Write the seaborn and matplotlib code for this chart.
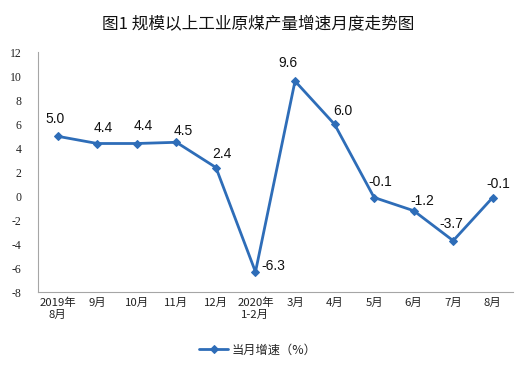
import matplotlib
matplotlib.use("Agg")
import matplotlib.pyplot as plt
import seaborn as sns
import pandas as pd
import numpy as np

categories = ["2019年\n8月", "9月", "10月", "11月", "12月", "2020年\n1-2月",
              "3月", "4月", "5月", "6月", "7月", "8月"]
growth = [5.0, 4.4, 4.4, 4.5, 2.4, -6.3, 9.6, 6.0, -0.1, -1.2, -3.7, -0.1]
value_labels = ["5.0", "4.4", "4.4", "4.5", "2.4", "-6.3", "9.6", "6.0", "-0.1", "-1.2", "-3.7", "-0.1"]
yticks = [12, 10, 8, 6, 4, 2, 0, -2, -4, -6, -8]
series_name = "当月增速（%）"
title = "图1 规模以上工业原煤产量增速月度走势图"

# label offsets in pixels (dx, dy up)
label_offsets = [(-3, 17), (6, 16), (6, 17), (7, 11), (6, 14), (18, 6),
                 (-7, 18), (8, 13), (6, 15), (9, 10), (-2, 17), (6, 14)]

sns.set_theme(style="white")
plt.rcParams['font.family'] = ['Noto Sans CJK SC', 'DejaVu Sans']

color = "#2E6DB8"
df = pd.DataFrame({"pos": np.arange(len(categories)), "val": growth, "series": series_name})

fig = plt.figure(figsize=(5.16, 3.67), dpi=100)
ax = fig.add_axes([38 / 516, 1 - 292.3 / 367, 474.5 / 516, 240 / 367])

sns.lineplot(data=df, x="pos", y="val", hue="series", palette=[color], ax=ax,
             marker="D", markersize=4.5, markeredgecolor=color, linewidth=2.0, sort=False)

ax.set_xlim(-0.5, len(categories) - 0.5)
ax.set_ylim(-8, 12)
ax.set_yticks(yticks)
ax.set_yticklabels([str(t) for t in yticks], fontfamily="Liberation Serif", fontsize=8.5)
ax.set_xticks(np.arange(len(categories)))
ax.set_xticklabels(categories, fontsize=8.2, linespacing=1.25)
ax.set_xticks(np.arange(len(categories) + 1) - 0.5, minor=True)
ax.tick_params(axis="x", which="major", length=0, pad=4, colors="#222222")
ax.tick_params(axis="x", which="minor", direction="in", length=3, color="#A6A6A6", width=0.8)
ax.tick_params(axis="y", which="major", direction="out", length=3, color="#A6A6A6", width=0.8,
               pad=9, colors="#222222")
ax.tick_params(axis="y", color="#A6A6A6")
ax.set_xlabel("")
ax.set_ylabel("")
for s in ["top", "right"]:
    ax.spines[s].set_visible(False)
for s in ["left", "bottom"]:
    ax.spines[s].set_color("#A6A6A6")
    ax.spines[s].set_linewidth(0.8)
ax.grid(False)

for i, (v, lab) in enumerate(zip(growth, value_labels)):
    dx, dy = label_offsets[i]
    ax.annotate(lab, (i, v), xytext=(dx * 0.72, dy * 0.72), textcoords="offset points",
                ha="center", va="center", fontsize=10, fontfamily="Liberation Sans", color="#111111")

leg = ax.legend(loc="center", bbox_to_anchor=(258 / 516, 1 - 350 / 367),
                bbox_transform=fig.transFigure, frameon=False, fontsize=8.8,
                handlelength=2.4, handletextpad=0.3)

fig.text(258 / 516, 1 - 25 / 367, title, ha="center", va="center", fontsize=12,
         fontweight="medium", color="#111111")

fig.savefig("out.png", dpi=100)
